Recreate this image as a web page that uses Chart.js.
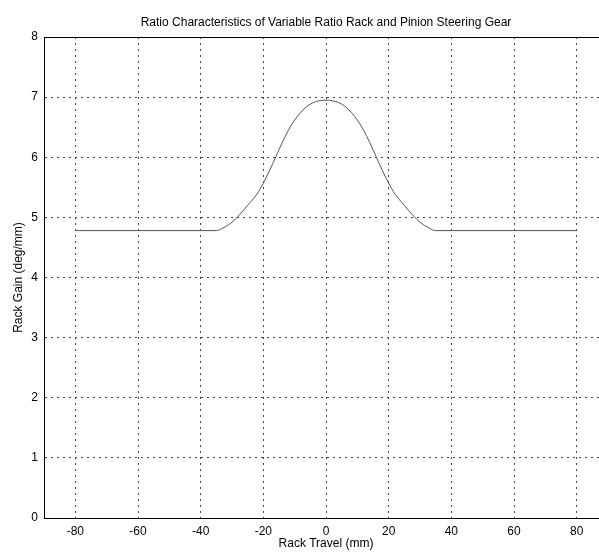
<!DOCTYPE html>
<html>
<head>
<meta charset="utf-8">
<script src="https://cdn.jsdelivr.net/npm/chart.js@4/dist/chart.umd.min.js"></script>
<style>
html,body{margin:0;padding:0;overflow:hidden;background:#fff;}
#wrap{position:relative;width:612px;height:553px;}
</style>
</head>
<body>
<div id="wrap"><canvas id="c" width="612" height="553"></canvas></div>
<script>
// Data
const rackTravel = [-80, -35, -33, -30, -28, -25, -22, -20, -18, -16, -14, -12, -10, -8, -6, -4, -2, 0,
                    2, 4, 6, 8, 10, 12, 14, 16, 18, 20, 22, 25, 28, 30, 33, 35, 80];
const rackGain = [4.78, 4.78, 4.82, 4.92, 5.02, 5.20, 5.39, 5.57, 5.78, 6.01, 6.24, 6.45, 6.62, 6.75, 6.85, 6.91, 6.94, 6.95,
                  6.94, 6.91, 6.85, 6.75, 6.62, 6.45, 6.24, 6.01, 5.78, 5.57, 5.39, 5.20, 5.02, 4.92, 4.82, 4.78, 4.78];
const xTicks = [-80, -60, -40, -20, 0, 20, 40, 60, 80];
const yTicks = [0, 1, 2, 3, 4, 5, 6, 7, 8];
const chartTitle = 'Ratio Characteristics of Variable Ratio Rack and Pinion Steering Gear';

const FONT = '"Liberation Sans", Arial, Helvetica, sans-serif';
Chart.defaults.font.family = FONT;
Chart.defaults.color = '#000';

const points = rackTravel.map((x, i) => ({x: x, y: rackGain[i]}));

new Chart(document.getElementById('c'), {
  type: 'line',
  data: {
    datasets: [{
      data: points,
      borderColor: '#555',
      borderWidth: 1,
      pointRadius: 0,
      cubicInterpolationMode: 'monotone',
      fill: false
    }]
  },
  options: {
    responsive: false,
    animation: false,
    layout: {padding: {left: 0, right: 4, top: 0, bottom: 0}},
    plugins: {
      legend: {display: false},
      tooltip: {enabled: false},
      title: {display: false}
    },
    scales: {
      x: {
        type: 'linear',
        position: 'bottom',
        min: -90, max: 90,
        afterBuildTicks: s => { s.ticks = xTicks.map(v => ({value: v})); },
        afterFit: s => { s.height = 35; },
        grid: {color: '#444', lineWidth: 1, drawTicks: false},
        border: {display: true, color: '#000', width: 1, dash: [2, 4]},
        ticks: {padding: 6, font: {size: 12}, color: '#000', maxRotation: 0},
        title: {display: true, text: 'Rack Travel (mm)', font: {size: 12}, color: '#000', padding: {top: 0, bottom: 2}}
      },
      x2: {
        type: 'linear',
        position: 'top',
        min: -90, max: 90,
        afterFit: s => { s.height = 37; },
        grid: {display: false, drawTicks: false},
        border: {display: true, color: '#000', width: 1},
        ticks: {display: false},
        title: {display: true, text: chartTitle, font: {size: 12}, color: '#000', padding: {top: 15, bottom: 0}}
      },
      y: {
        type: 'linear',
        min: 0, max: 8,
        afterBuildTicks: s => { s.ticks = yTicks.map(v => ({value: v})); },
        afterFit: s => { s.width = 44; },
        grid: {color: '#444', lineWidth: 1, drawTicks: false},
        border: {display: true, color: '#000', width: 1, dash: [2, 4]},
        ticks: {padding: 6, font: {size: 12}, color: '#000'},
        title: {display: true, text: 'Rack Gain (deg/mm)', font: {size: 12}, color: '#000', padding: {top: 11, bottom: 0}}
      }
    }
  }
});
</script>
</body>
</html>
